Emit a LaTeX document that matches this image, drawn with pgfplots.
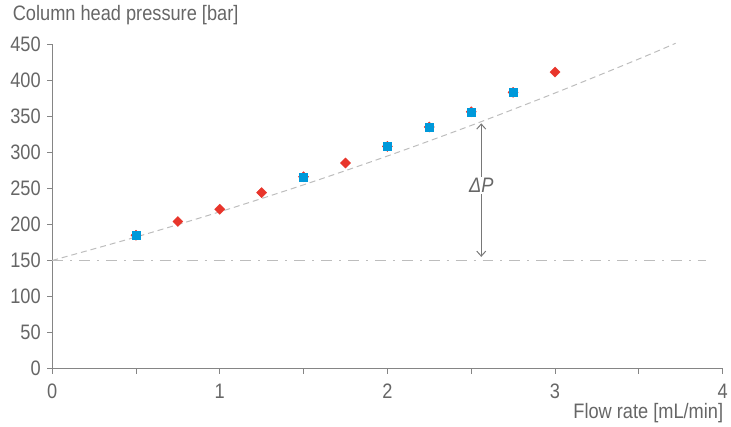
\documentclass[border=0pt]{standalone}
\usepackage{fontspec}
\setmainfont{Liberation Sans}[FakeStretch=0.87]
\usepackage{pgfplots}
\pgfplotsset{compat=1.18}
\usetikzlibrary{arrows.meta}
\definecolor{txt}{HTML}{666666}
\definecolor{axc}{HTML}{858585}
\definecolor{myred}{HTML}{E8352B}
\definecolor{myblue}{HTML}{0099DA}
\definecolor{lgray}{HTML}{BDBDBD}
\begin{document}
\begin{tikzpicture}
\begin{axis}[
 scale only axis, width=673pt, height=326pt,
 xmin=0, xmax=4, ymin=0, ymax=450,
 axis x line=bottom, axis y line=left,
 axis line style={axc, line width=1.2pt, -},
 xtick={0,1,2,3,4}, minor xtick={0.5,1.5,2.5,3.5},
 ytick={0,50,...,450},
 tick style={axc, line width=0.9pt},
 tick align=outside, major tick length=5pt, minor tick length=5pt,
 ticklabel style={font=\fontsize{21}{23}\selectfont, text=txt},
 xticklabel style={yshift=-7pt},
 yticklabel style={xshift=-3pt},
 /pgf/number format/assume math mode=true,
 clip=false,
]
\addplot[lgray, line width=1pt, dash pattern=on 6pt off 4pt, smooth] coordinates {(0,150)(0.5,182.5)(1,217.4)(1.5,254.8)(2,294.7)(2.5,337.1)(3,382)(3.5,429.2)(3.72,451)};
\addplot[lgray, line width=1pt, dash pattern=on 11pt off 7pt on 2pt off 7pt] coordinates {(0,150)(3.9,150)};
\addplot[only marks, mark=square*, mark size=3.6pt, mark options={rotate=45, fill=myred, draw=myred}] coordinates {(0.5,185)(0.75,204)(1,221)(1.25,244)(1.5,266)(1.75,285)(2,308)(2.25,335)(2.5,356)(2.75,383)(3,411)};
\addplot[only marks, mark=square*, mark size=4pt, mark options={fill=myblue, draw=myblue}] coordinates {(0.5,185)(1.5,266)(2,308)(2.25,335)(2.5,356)(2.75,383)};
\draw[color=axc!90!black, line width=1pt, {Straight Barb[length=5pt,width=9pt]}-{Straight Barb[length=5pt,width=9pt]}] (axis cs:2.56,155) -- (axis cs:2.56,340);
\node[fill=white, inner sep=1pt, text=txt, font=\fontsize{21}{23}\selectfont\itshape] at (axis cs:2.56,254) {ΔP};
\node[anchor=west, text=txt, font=\fontsize{21}{23}\selectfont] at ([xshift=-43pt, yshift=29pt]rel axis cs:0,1) {Column head pressure [bar]};
\node[anchor=east, text=txt, font=\fontsize{21}{23}\selectfont] at ([xshift=4pt, yshift=-45pt]rel axis cs:1,0) {Flow rate [mL/min]};
\end{axis}
\path ([xshift=-7pt]current bounding box.west);
\path ([yshift=2pt]current bounding box.north);
\end{tikzpicture}
\end{document}
